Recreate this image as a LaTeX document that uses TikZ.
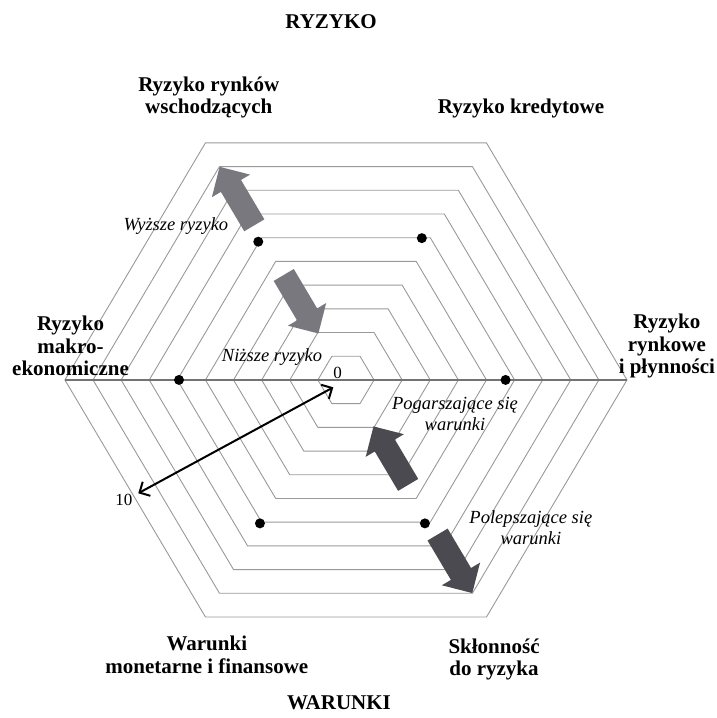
\documentclass[tikz,border=0pt]{standalone}
\usepackage{fontspec}
\setmainfont{Liberation Serif}
\usetikzlibrary{shapes,arrows.meta,positioning}

\definecolor{lightarrow}{RGB}{121,120,126}
\definecolor{darkarrow}{RGB}{75,74,80}

\tikzstyle{ring} = [draw=black!40, line width=0.9pt]
\tikzstyle{axis} = [draw=black!55, line width=1.4pt]
\tikzstyle{dot} = [circle, fill=black, inner sep=0pt, minimum size=10pt]
\tikzstyle{bigarrow} = [single arrow, inner xsep=0pt, inner ysep=11.5pt,
                        minimum height=68pt, single arrow head extend=10.5pt,
                        anchor=tip]
\tikzstyle{blabel} = [align=center, inner sep=0pt,
                      font=\bfseries\fontsize{21}{22.5}\selectfont]
\tikzstyle{ilabel} = [align=center, inner sep=0pt,
                      font=\itshape\fontsize{18.5}{21}\selectfont]

\begin{document}
\begin{tikzpicture}[x=28.1pt,y=27.37pt]

  \useasboundingbox (-12.31,-12.35) rectangle (13.20,13.88);

  \coordinate (Center) at (0,0);
  \coordinate (Zero) at (-0.45,-0.27);
  \coordinate (Ten) at (-7.39,-4.14);

  % the ten rings
  \foreach \r in {1,...,10}
    \draw[ring] (0:\r) -- (60:\r) -- (120:\r) -- (180:\r)
                -- (240:\r) -- (300:\r) -- cycle;
  \draw[axis] (180:10) -- (0:10);

  % values
  \node[dot] (EmergDot) at (-3.12,5.05) {};
  \node[dot] (CreditDot) at (2.70,5.18) {};
  \node[dot] (MacroDot) at (-5.94,0) {};
  \node[dot] (MarketDot) at (5.68,0) {};
  \node[dot] (MonetDot) at (-3.06,-5.24) {};
  \node[dot] (AppetDot) at (2.81,-5.24) {};

  % big arrows
  \node[bigarrow, fill=lightarrow, rotate=120.66] (UpOut) at (120:9) {};
  \node[bigarrow, fill=lightarrow, rotate=-59.34] (UpIn) at (120:1.95) {};
  \node[bigarrow, fill=darkarrow, rotate=120.66] (DownIn) at (-60:1.95) {};
  \node[bigarrow, fill=darkarrow, rotate=-59.34] (DownOut) at (-60:9) {};

  % scale
  \draw[{Straight Barb[length=8pt,width=16pt]}-{Straight Barb[length=8pt,width=16pt]},
        line width=2pt] (Zero) -- (Ten);
  \node[font=\fontsize{17}{17}\selectfont, inner sep=0pt] (ZeroLbl) at (-0.3,0.26) {0};
  \node[font=\fontsize{17}{17}\selectfont, inner sep=0pt] (TenLbl) at (-7.9,-4.38) {10};

  % headings
  \node[blabel] (RiskHead) at (-0.53,13.08) {RYZYKO};
  \node[blabel] (CondHead) at (-0.25,-11.8) {WARUNKI};

  \node[blabel] (EmergLbl) at (-4.88,10.32) {Ryzyko rynków\\ wschodzących};
  \node[blabel] (CreditLbl) at (6.23,9.93) {Ryzyko kredytowe};
  \node[blabel] (MacroLbl) at (-9.80,1.24) {Ryzyko\\ makro-\\ ekonomiczne};
  \node[blabel] (MarketLbl) at (11.42,1.24) {Ryzyko\\ rynkowe\\ i płynności};
  \node[blabel] (MonetLbl) at (-4.95,-10.05) {Warunki\\ monetarne i finansowe};
  \node[blabel] (AppetLbl) at (5.27,-10.21) {Skłonność\\ do ryzyka};

  \node[ilabel] (HighLbl) at (-6.05,5.63) {Wyższe ryzyko};
  \node[ilabel] (LowLbl) at (-2.63,0.82) {Niższe ryzyko};
  \node[ilabel] (WorseLbl) at (3.88,-1.23) {Pogarszające się\\ warunki};
  \node[ilabel] (BetterLbl) at (6.58,-5.41) {Polepszające się\\ warunki};

\end{tikzpicture}
\end{document}
